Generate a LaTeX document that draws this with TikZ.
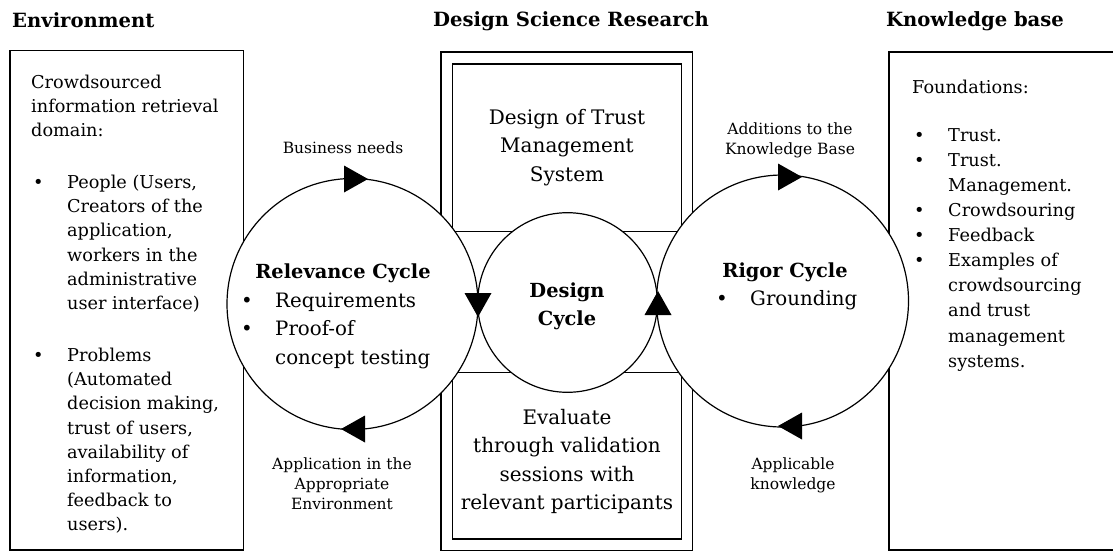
\documentclass[tikz,border=0pt]{standalone}
\usepackage{fontspec}
\setmainfont{DejaVu Serif}
\newcommand{\bl}{\makebox[36pt][l]{\hspace{2pt}\textbullet}}
\newcommand{\ind}{\hspace*{36pt}}
\newcommand{\blc}{\makebox[34pt][l]{\textbullet}}
\newcommand{\indc}{\hspace*{34pt}}
\begin{document}
\begin{tikzpicture}[x=1pt,y=-1pt,
  box/.style={draw, line width=1.3pt},
  cyc/.style={circle, draw, line width=1.2pt, fill=white, inner sep=0pt},
  head/.style={font=\fontsize{19.6}{23}\selectfont\bfseries, inner sep=0pt},
  small/.style={font=\fontsize{15.5}{20}\selectfont, align=center, inner sep=0pt},
  body/.style={font=\fontsize{17.7}{24.2}\selectfont, align=left, inner sep=0pt},
  bodyr/.style={font=\fontsize{17.7}{25.1}\selectfont, align=left, inner sep=0pt},
  ctext/.style={font=\fontsize{20}{28.2}\selectfont, align=center, inner sep=0pt},
  clist/.style={font=\fontsize{19.8}{28.7}\selectfont, align=left, inner sep=0pt},
  ctitle/.style={font=\fontsize{19.4}{28.5}\selectfont\bfseries, align=center, inner sep=0pt},
  arrR/.pic={\fill (12,0) -- (-12,-13.5) -- (-12,13.5) -- cycle;},
  arrL/.pic={\fill (-12,0) -- (12,-13.5) -- (12,13.5) -- cycle;},
  arrD/.pic={\fill (0,12) -- (-13.5,-12) -- (13.5,-12) -- cycle;},
  arrU/.pic={\fill (0,-12) -- (-13.5,12) -- (13.5,12) -- cycle;}
]
\useasboundingbox (0,0) rectangle (1113,552);
\clip (0,0) rectangle (1113,552);

% headings
\node[head, anchor=west] (henv) at (12,20) {Environment};
\node[head] (hdsr) at (571,21) {Design Science Research};
\node[head, anchor=west] (hkb) at (886,21) {Knowledge base};

% boxes
\draw[box] (10,50.5) rectangle (243.5,550);
\draw[box] (441,52) rectangle (692.5,550.5);
\draw[box] (452.5,64) rectangle (681.5,231.5);
\draw[box] (452.5,372.5) rectangle (681.5,539);
\draw[box] (889,52) rectangle (1130,550);

% circles
\node[cyc, minimum size=251pt] (rel) at (352.5,304) {};
\node[cyc, minimum size=252pt] (rig) at (782.5,301) {};
\node[cyc, minimum size=179.6pt] (des) at (567.5,302.5) {};

% arrowheads
\pic at (356,179) {arrR};
\pic at (353,429) {arrL};
\pic at (478,305) {arrD};
\pic at (658,303) {arrU};
\pic at (790,177) {arrR};
\pic at (790,426) {arrL};

% left box text
\node[body, anchor=north west] (envtxt) at (31,74.5) {Crowdsourced\\information retrieval\\domain:\\[27.8pt]
\bl People (Users,\\\ind Creators of the\\\ind application,\\\ind workers in the\\\ind administrative\\\ind user interface)\\[27.8pt]
\bl Problems\\\ind (Automated\\\ind decision making,\\\ind trust of users,\\\ind availability of\\\ind information,\\\ind feedback to\\\ind users).};

% right box text
\node[bodyr, anchor=north west] (kbtxt) at (912,79.5) {Foundations:\\[23pt]
\bl Trust.\\\bl Trust.\\\ind Management.\\\bl Crowdsouring\\\bl Feedback\\\bl Examples of\\\ind crowdsourcing\\\ind and trust\\\ind management\\\ind systems.};

% cycle labels
\node[small] (bn) at (343,148) {Business needs};
\node[small] (app) at (342,484) {Application in the\\Appropriate\\Environment};
\node[small] (add) at (790,140) {Additions to the\\Knowledge Base};
\node[small] (apk) at (793,475) {Applicable\\knowledge};

% relevance cycle
\node[ctitle] (relt) at (343,273.5) {Relevance Cycle};
\node[clist, anchor=north west] (rell) at (241,292.5) {\blc Requirements\\\blc Proof-of\\\indc concept testing};

% rigor cycle
\node[ctitle] (rigt) at (785,272.5) {Rigor Cycle};
\node[clist, anchor=north west] (rigl) at (716,290.5) {\makebox[34pt][l]{\textbullet}Grounding};

% design cycle
\node[ctitle] (dest) at (567,306.5) {Design\\Cycle};

% design boxes text
\node[ctext] (dtm) at (567,147.5) {Design of Trust\\Management\\System};
\node[ctext] (eval) at (567,461.5) {Evaluate\\through validation\\sessions with\\relevant participants};
\end{tikzpicture}
\end{document}
